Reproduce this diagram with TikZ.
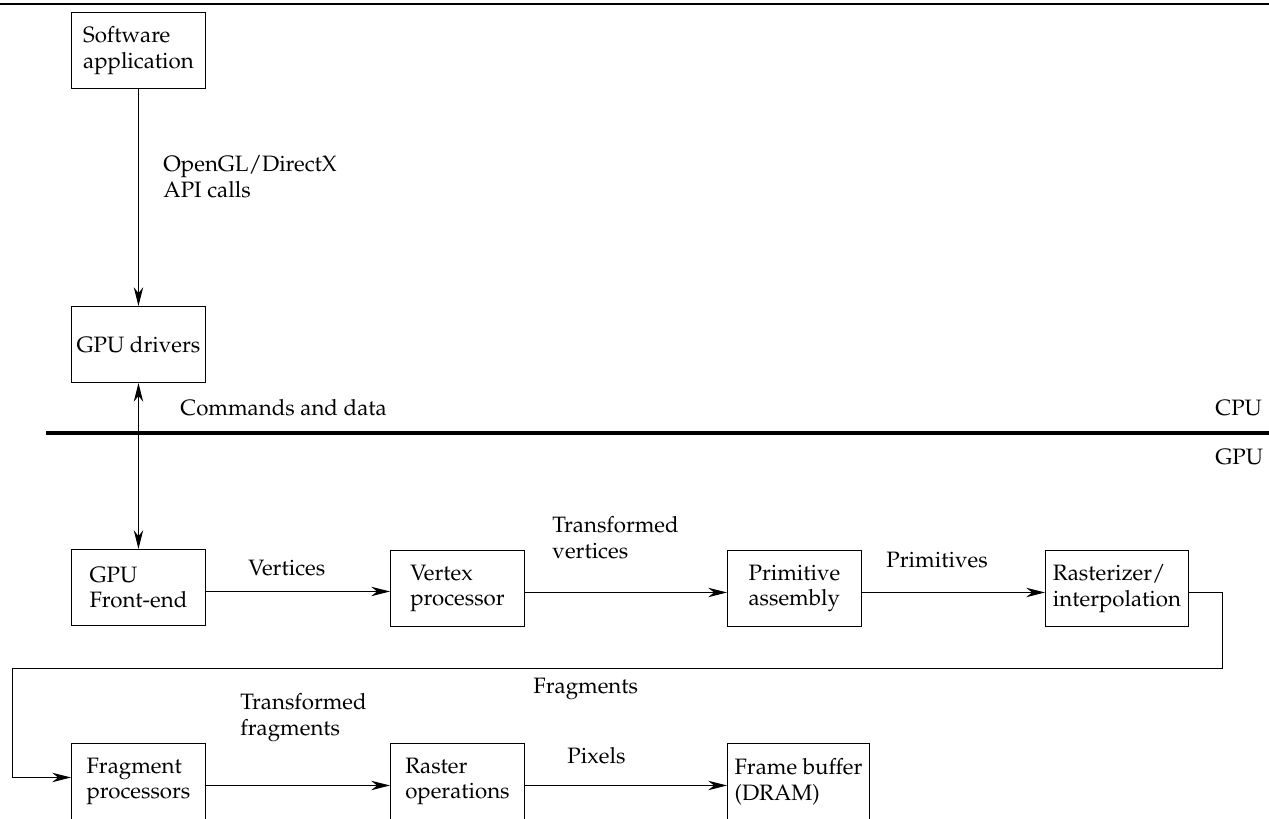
\documentclass[tikz,border=0pt]{standalone}
\usepackage[T1]{fontenc}
\usepackage{mathpazo}
\usetikzlibrary{arrows.meta}

\tikzset{
  stage/.style={draw, align=left, anchor=north west, minimum width=2.01cm, minimum height=1.14cm, inner xsep=2pt, font=\fontsize{9.5}{11}\selectfont},
  flowlabel/.style={anchor=base west, align=left, inner sep=0pt, font=\fontsize{9.5}{11}\selectfont},
}

\begin{document}
\begin{tikzpicture}[x=0.015cm, y=-0.015cm, >={Stealth[length=8pt,width=4pt,inset=2.5pt]}]
  \clip (0,0) rectangle (1269,818);
  % rules
  \draw[line width=0.8pt] (0,4) -- (1269,4);
  \draw[line width=1.3pt] (46,433) -- (1269,433);
  % CPU side
  \node[stage] (app) at (71,12) {Software\\application};
  \node[stage] (drv) at (71,306) {GPU drivers};
  \draw[->] (app.south) -- (drv.north);
  \node[flowlabel] (api) at (163,197) {OpenGL/DirectX\\API calls};
  \node[flowlabel] (cmd) at (180,415) {Commands and data};
  \node[flowlabel] (cpu) at (1215,415) {CPU};
  \node[flowlabel] (gpu) at (1215,464) {GPU};
  % first row of stages
  \node[stage] (fe) at (71,549) {GPU\\Front-end};
  \node[stage] (vp) at (390,550) {Vertex\\processor};
  \node[stage] (pa) at (727,550) {Primitive\\assembly};
  \node[stage, minimum width=2.145cm] (ras) at (1045,550) {Rasterizer/\\interpolation};
  \draw[<->] (drv.south) -- (fe.north);
  \draw[->] ([yshift=-0.06cm]fe.east) -- ([yshift=-0.06cm]fe.east -| vp.west);
  \draw[->] ([yshift=-0.06cm]vp.east) -- ([yshift=-0.06cm]vp.east -| pa.west);
  \draw[->] ([yshift=-0.06cm]pa.east) -- ([yshift=-0.06cm]pa.east -| ras.west);
  \node[flowlabel] (lvert) at (248,575) {Vertices};
  \node[flowlabel] (ltv) at (552,558) {Transformed\\vertices};
  \node[flowlabel] (lprim) at (886,567) {Primitives};
  % second row of stages
  \node[stage] (fp) at (71,743) {Fragment\\processors};
  \node[stage] (rop) at (390,743) {Raster\\operations};
  \node[stage, minimum width=2.13cm] (fb) at (727,743) {Frame buffer\\(DRAM)};
  \coordinate (turnR) at (1222,668);
  \coordinate (turnL) at (12,668);
  \draw[->] ([yshift=-0.06cm]ras.east) -| (turnR) -- (turnL) |- ([yshift=0.06cm]fp.west);
  \node[flowlabel] (lfrag) at (533,693) {Fragments};
  \draw[->] ([yshift=-0.06cm]fp.east) -- ([yshift=-0.06cm]fp.east -| rop.west);
  \draw[->] ([yshift=-0.06cm]rop.east) -- ([yshift=-0.06cm]rop.east -| fb.west);
  \node[flowlabel] (ltf) at (240,735) {Transformed\\fragments};
  \node[flowlabel] (lpix) at (567,763) {Pixels};
\end{tikzpicture}
\end{document}
